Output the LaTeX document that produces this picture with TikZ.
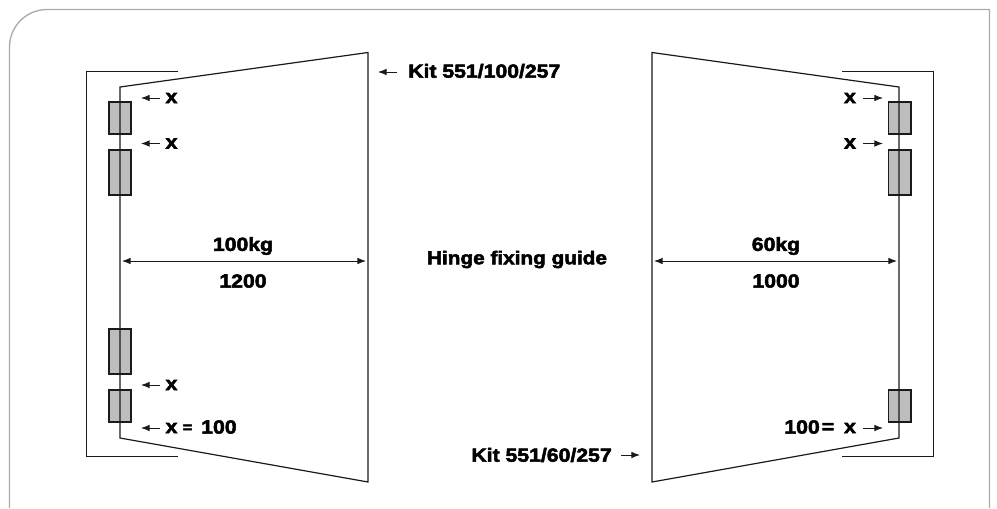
\documentclass[tikz,border=0pt]{standalone}
\usepackage{fontspec}
\setmainfont{Liberation Sans}[BoldFeatures={FakeBold=2.8,FakeStretch=1.12}]
\usetikzlibrary{arrows.meta}
\definecolor{framegrey}{HTML}{ABABAB}
\definecolor{hingegrey}{HTML}{BDBDBD}
\definecolor{inkline}{HTML}{1A1A1A}
\tikzset{
  px/.style={x=0.75pt,y=-0.75pt},
  outline/.style={draw=inkline,line width=0.9pt},
  hinge/.style={draw=inkline,fill=hingegrey,line width=0.95pt},
  lbl/.style={inner sep=0pt,font=\fontsize{14.2pt}{16pt}\selectfont\bfseries,text=black},
  eqlbl/.style={inner sep=0pt,font=\fontsize{11pt}{12pt}\selectfont\bfseries,text=black},
  tickarrow/.style={draw=inkline,line width=0.7pt,-{Latex[length=6.5pt,width=5pt]}},
  dimarrow/.style={draw=inkline,line width=0.7pt,{Latex[length=6.5pt,width=5pt]}-{Latex[length=6.5pt,width=5pt]}},
}
\newcommand{\hingebox}[4]{\path[hinge] (#1,#2) rectangle (#3,#4);}
\begin{document}
\begin{tikzpicture}[px]
\useasboundingbox (0,0) rectangle (997,508);
% frame
\draw[framegrey,line width=1pt] (9.5,508) -- (9.5,47) arc[start angle=180,end angle=270,radius=37.5] -- (989.5,9.5) -- (989.5,508);
% left hinges (under door edge)
\hingebox{109}{102}{131}{134}
\hingebox{109}{150}{131}{195}
\hingebox{109}{329}{131}{374}
\hingebox{109}{390}{131}{422}
% right hinges
\hingebox{888.5}{102}{911}{134}
\hingebox{888.5}{150}{911}{195}
\hingebox{888.5}{390}{911}{422}
% brackets
\draw[outline] (178,71.5) -- (86.6,71.5) -- (86.6,456.4) -- (178,456.4);
\draw[outline] (842,71.5) -- (933.4,71.5) -- (933.4,456.4) -- (842,456.4);
% doors
\draw[outline,line join=miter] (120,87) -- (368,52.5) -- (368,482) -- (120,438) -- cycle;
\draw[outline,line join=miter] (899,87) -- (652,52.5) -- (652,482) -- (899,438) -- cycle;
% coordinates for connector ends
\coordinate (lk) at (397,72);
\coordinate (lkh) at (378,72);
\coordinate (rk) at (621,455);
\coordinate (rkh) at (640,455);
\coordinate (la1s) at (160,98); \coordinate (la1e) at (141,98);
\coordinate (la2s) at (160,143.5); \coordinate (la2e) at (141,143.5);
\coordinate (la3s) at (160,385); \coordinate (la3e) at (141,385);
\coordinate (la4s) at (160,428); \coordinate (la4e) at (141,428);
\coordinate (ra1s) at (863,98); \coordinate (ra1e) at (883,98);
\coordinate (ra2s) at (863,143.5); \coordinate (ra2e) at (883,143.5);
\coordinate (ra4s) at (863,428); \coordinate (ra4e) at (883,428);
\coordinate (ld1) at (122,261); \coordinate (ld2) at (366,261);
\coordinate (rd1) at (654,261); \coordinate (rd2) at (897,261);
% arrows
\draw[tickarrow] (lk) -- (lkh);
\draw[tickarrow] (rk) -- (rkh);
\draw[tickarrow] (la1s) -- (la1e);
\draw[tickarrow] (la2s) -- (la2e);
\draw[tickarrow] (la3s) -- (la3e);
\draw[tickarrow] (la4s) -- (la4e);
\draw[tickarrow] (ra1s) -- (ra1e);
\draw[tickarrow] (ra2s) -- (ra2e);
\draw[tickarrow] (ra4s) -- (ra4e);
\draw[dimarrow] (ld1) -- (ld2);
\draw[dimarrow] (rd1) -- (rd2);
% labels
\node[lbl,anchor=west] (kitl) at (408,71) {Kit 551/100/257};
\node[lbl,anchor=east] (kitr) at (612,455) {Kit 551/60/257};
\node[lbl,font=\fontsize{13.9pt}{16pt}\selectfont\bfseries] (guide) at (517,259.5) {Hinge fixing guide};
\node[lbl] (wl) at (243,246) {100kg};
\node[lbl] (sl) at (243,281) {1200};
\node[lbl] (wr) at (776,246) {60kg};
\node[lbl] (sr) at (776,281) {1000};
\node[lbl] (x1) at (171.5,98) {x};
\node[lbl] (x2) at (171.5,143.5) {x};
\node[lbl] (x3) at (171.5,385) {x};
\node[lbl] (x4) at (171.5,428) {x};
\node[eqlbl] (eq1) at (187.5,428.5) {=};
\node[lbl,anchor=west] (h1) at (201,427) {100};
\node[lbl] (x5) at (850,98) {x};
\node[lbl] (x6) at (850,143.5) {x};
\node[lbl] (x7) at (850,428) {x};
\node[lbl] (eq2) at (828,428) {=};
\node[lbl,anchor=east] (h2) at (820,427) {100};
\end{tikzpicture}
\end{document}
